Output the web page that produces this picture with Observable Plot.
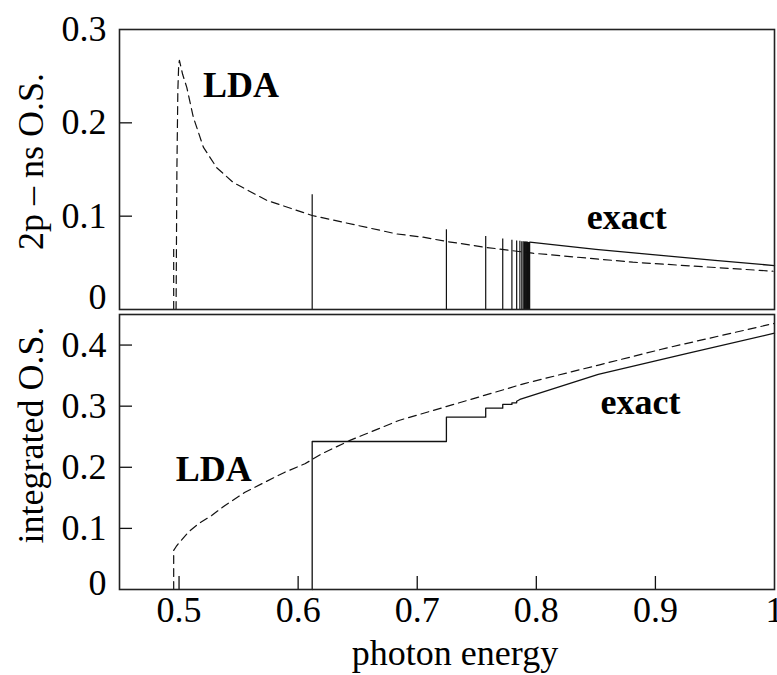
<!DOCTYPE html>
<html><head><meta charset="utf-8">
<script src="https://cdn.jsdelivr.net/npm/d3@7"></script>
<script src="https://cdn.jsdelivr.net/npm/@observablehq/plot@0.6"></script>
<style>
body{margin:0;background:#fff;}
#wrap{position:relative;width:777px;height:675px;overflow:hidden;background:#fff;}
#top,#bot{position:absolute;left:0;}
#top{top:0;} #bot{top:312px;}
svg{overflow:visible;}
</style></head><body><div id="wrap"><div id="top"></div><div id="bot"></div></div>
<script>
// ---------- data ----------
const energyTicks = [0.5, 0.6, 0.7, 0.8, 0.9, 1];
const topYTicks = [0, 0.1, 0.2, 0.3];
const botYTicks = [0, 0.1, 0.2, 0.3, 0.4];

// top panel: LDA bound line and continuum (dashed)
const ldaBoundX = [0.4955];
const ldaBoundH = [0.069];
const ldaTopX = [0.4975, 0.4982, 0.4990, 0.4997, 0.5003, 0.5030, 0.5065, 0.5120, 0.5204, 0.5316, 0.5456, 0.5736, 0.6118, 0.6826, 0.7050, 0.7245, 0.7580, 0.7970, 0.8810, 0.9988];
const ldaTopY = [0.0, 0.150, 0.235, 0.262, 0.267, 0.252, 0.238, 0.206, 0.174, 0.152, 0.136, 0.117, 0.1007, 0.081, 0.0775, 0.0729, 0.0665, 0.0603, 0.0507, 0.0410];

// top panel: exact discrete lines and continuum (solid)
const exactLineX = [0.6118, 0.7245, 0.7575, 0.7718, 0.7795, 0.7835, 0.7862, 0.7878, 0.7890, 0.7900, 0.7908, 0.7914, 0.7919, 0.7923, 0.7927, 0.7930, 0.7933, 0.7936, 0.7938, 0.7940, 0.7942, 0.7944];
const exactLineH = [0.1229, 0.0854, 0.0782, 0.0755, 0.0742, 0.0735, 0.0730, 0.0727, 0.0725, 0.0724, 0.0723, 0.0722, 0.0721, 0.0720, 0.0720, 0.0719, 0.0719, 0.0718, 0.0718, 0.0718, 0.0717, 0.0717];
const exactTopX = [0.7945, 0.8500, 0.9000, 0.9500, 1.0000];
const exactTopY = [0.0721, 0.0645, 0.0585, 0.0527, 0.0470];

// bottom panel: integrated oscillator strength
const ldaIntX = [0.4955, 0.4955, 0.4975, 0.4994, 0.5078, 0.5162, 0.5274, 0.5386, 0.5554, 0.5721, 0.5889, 0.6057, 0.6197, 0.6435, 0.6846, 0.7414, 0.7900, 0.8532, 0.9090, 1.0000];
const ldaIntY = [0.0, 0.064, 0.070, 0.0748, 0.0938, 0.1075, 0.1211, 0.1375, 0.159, 0.1756, 0.192, 0.2057, 0.222, 0.244, 0.2766, 0.309, 0.337, 0.3677, 0.395, 0.4355];
const exactIntX = [0.6118, 0.6118, 0.7245, 0.7245, 0.7575, 0.7575, 0.7718, 0.7718, 0.7795, 0.7795, 0.7835, 0.7835, 0.7862, 0.8520, 0.9260, 1.0000];
const exactIntY = [0.0, 0.2422, 0.2422, 0.282, 0.282, 0.2967, 0.2967, 0.3028, 0.3028, 0.3055, 0.3055, 0.3080, 0.3110, 0.3520, 0.3860, 0.4195];

// annotations
const topLabels = ["LDA", "exact"];
const topLabelX = [0.552, 0.876];
const topLabelY = [0.2275, 0.0865];
const botLabels = ["LDA", "exact"];
const botLabelX = [0.5291, 0.8874];
const botLabelY = [0.178, 0.2875];

// ---------- build tables ----------
const zip = (xs, ys) => xs.map((x, i) => ({x, y: ys[i]}));
const ldaBound = zip(ldaBoundX, ldaBoundH);
const ldaTop = zip(ldaTopX, ldaTopY);
const exactLines = zip(exactLineX, exactLineH);
const exactTop = zip(exactTopX, exactTopY);
const ldaInt = zip(ldaIntX, ldaIntY);
const exactInt = zip(exactIntX, exactIntY);
const topAnn = topLabels.map((t, i) => ({t, x: topLabelX[i], y: topLabelY[i]}));
const botAnn = botLabels.map((t, i) => ({t, x: botLabelX[i], y: botLabelY[i]}));

const FONT = "'Liberation Serif', 'Times New Roman', serif";
const INK = "#111";
const DASH = "8,5";
const W = 777;

const topH = 312, topM = {l: 119, r: 3, t: 29, b: 3};
const botH = 363, botM = {l: 119, r: 3, t: 2, b: 86};
const innerW = W - topM.l - topM.r;

const topPlot = Plot.plot({
  width: W, height: topH,
  marginLeft: topM.l, marginRight: topM.r, marginTop: topM.t, marginBottom: topM.b,
  style: {fontFamily: FONT, fontSize: "36px", color: "#000", background: "transparent", overflow: "visible"},
  x: {domain: [0.45, 1], axis: null},
  y: {domain: [0, 0.3]},
  marks: [
    Plot.tickY(topYTicks.filter(d => d > 0 && d < 0.3), {y: d => d, insetRight: innerW - 13, stroke: INK, strokeWidth: 1.3}),
    Plot.axisY(topYTicks.filter(d => d > 0), {tickSize: 0, tickPadding: 13, tickFormat: d => String(d), label: null, fontSize: 36}),
    Plot.axisY([0], {tickSize: 0, tickPadding: 13, tickFormat: d => String(d), label: null, dy: -12, fontSize: 36}),
    Plot.ruleX(ldaBound, {x: "x", y1: 0, y2: "y", stroke: INK, strokeWidth: 1.2, strokeDasharray: DASH}),
    Plot.line(ldaTop, {x: "x", y: "y", stroke: INK, strokeWidth: 1.2, strokeDasharray: DASH}),
    Plot.ruleX(exactLines, {x: "x", y1: 0, y2: "y", stroke: INK, strokeWidth: 1.2}),
    Plot.line(exactTop, {x: "x", y: "y", stroke: INK, strokeWidth: 1.3}),
    Plot.text(topAnn, {x: "x", y: "y", text: "t", fontWeight: "bold", fontSize: 36, lineAnchor: "bottom", fill: "#000"}),
    Plot.text(["2p \u2013 ns O.S."], {text: d => d, frameAnchor: "left", textAnchor: "middle", rotate: -90, dx: -77, dy: -8, lineAnchor: "bottom", fontSize: 36, fill: "#000"}),
    Plot.frame({stroke: "#222", strokeWidth: 1.6})
  ]
});

const botInnerH = botH - botM.t - botM.b;
const botPlot = Plot.plot({
  width: W, height: botH,
  marginLeft: botM.l, marginRight: botM.r, marginTop: botM.t, marginBottom: botM.b,
  style: {fontFamily: FONT, fontSize: "36px", color: "#000", background: "transparent", overflow: "visible"},
  x: {domain: [0.45, 1]},
  y: {domain: [0, 0.45]},
  marks: [
    Plot.tickY(botYTicks.filter(d => d > 0), {y: d => d, insetRight: innerW - 13, stroke: INK, strokeWidth: 1.3}),
    Plot.tickX(energyTicks.filter(d => d < 1), {x: d => d, insetTop: botInnerH - 13, stroke: INK, strokeWidth: 1.3}),
    Plot.axisY(botYTicks.filter(d => d > 0), {tickSize: 0, tickPadding: 13, tickFormat: d => String(d), label: null, fontSize: 36}),
    Plot.axisY([0], {tickSize: 0, tickPadding: 13, tickFormat: d => String(d), label: null, dy: -6, fontSize: 36}),
    Plot.axisX(energyTicks, {tickSize: 0, tickPadding: 7, tickFormat: d => String(d), label: null, fontSize: 36}),
    Plot.line(ldaInt, {x: "x", y: "y", stroke: INK, strokeWidth: 1.2, strokeDasharray: DASH}),
    Plot.line(exactInt, {x: "x", y: "y", stroke: INK, strokeWidth: 1.3}),
    Plot.text(botAnn, {x: "x", y: "y", text: "t", fontWeight: "bold", fontSize: 36, lineAnchor: "bottom", fill: "#000"}),
    Plot.text(["integrated O.S."], {text: d => d, frameAnchor: "left", textAnchor: "middle", rotate: -90, dx: -77, dy: -17, lineAnchor: "bottom", fontSize: 36, fill: "#000"}),
    Plot.text(["photon energy"], {text: d => d, frameAnchor: "bottom", dx: 8, dy: 75, lineAnchor: "bottom", fontSize: 36, fill: "#000"}),
    Plot.frame({stroke: "#222", strokeWidth: 1.6})
  ]
});

document.getElementById("top").appendChild(topPlot);
document.getElementById("bot").appendChild(botPlot);
</script>
</body></html>
